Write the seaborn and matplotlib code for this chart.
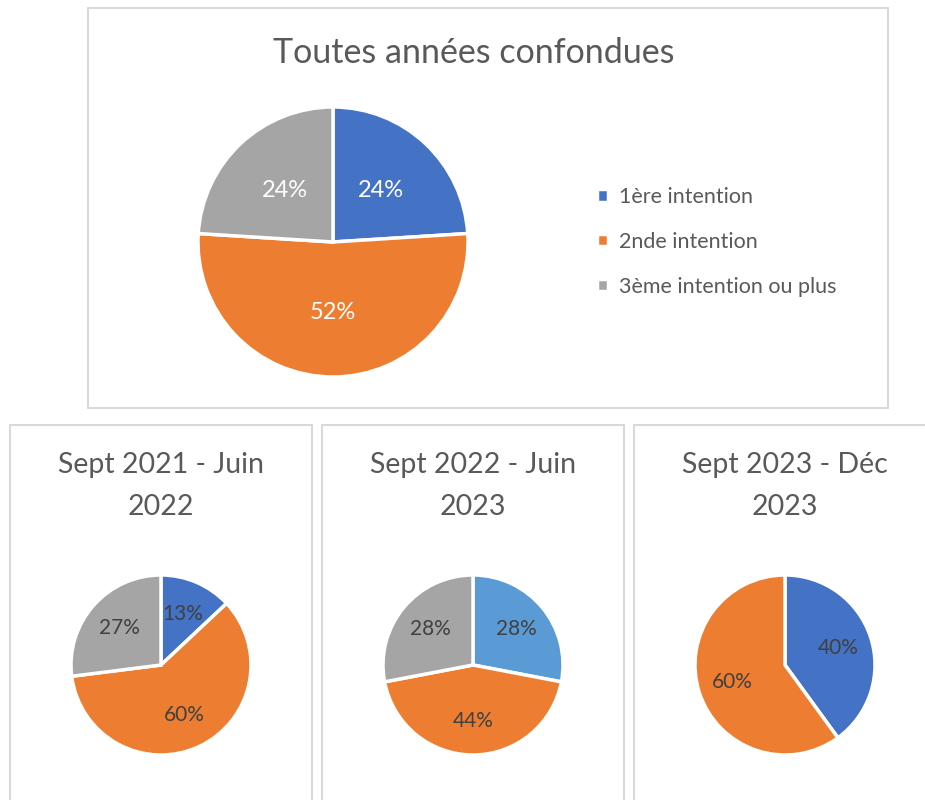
import matplotlib
matplotlib.use("Agg")
import matplotlib.pyplot as plt
import seaborn as sns
from matplotlib.patches import Rectangle

# donnees
categories = ['1ère intention', '2nde intention', '3ème intention ou plus']
total_vals = [24, 52, 24]
periodes = ['Sept 2021 - Juin\n2022', 'Sept 2022 - Juin\n2023', 'Sept 2023 - Déc\n2023']
vals_2122 = [13, 60, 27]
vals_2223 = [28, 44, 28]
vals_2324 = [40, 60]

sns.set_theme(style='white')
plt.rcParams['font.family'] = ['Lato', 'DejaVu Sans']

bleu, orange, gris, bleu_clair = '#4472C4', '#ED7D31', '#A5A5A5', '#5B9BD5'
couleurs = [[bleu, orange, gris], [bleu_clair, orange, gris], [bleu, orange]]

W, H = 925, 800
fig = plt.figure(figsize=(W / 100, H / 100), dpi=100)


def cadre(x0, y0, x1, y1):
    fig.patches.append(Rectangle((x0 / W, 1 - y1 / H), (x1 - x0) / W, (y1 - y0) / H,
                                 transform=fig.transFigure, fill=False,
                                 edgecolor='#D9D9D9', linewidth=1.5))


def camembert(cx, cy, r, vals, cols, dist, txtcol, fs):
    ax = fig.add_axes([(cx - r) / W, 1 - (cy + r) / H, 2 * r / W, 2 * r / H])
    wedges, _, autotexts = ax.pie(vals, colors=cols, startangle=90, counterclock=False,
                                  autopct='%1.0f%%', pctdistance=dist,
                                  wedgeprops=dict(edgecolor='white', linewidth=2.5, clip_on=False),
                                  textprops=dict(color=txtcol, fontsize=fs))
    ax.set_xlim(-1, 1)
    ax.set_ylim(-1, 1)
    ax.set_aspect('equal')
    ax.axis('off')
    return ax, wedges


# graphe global
cadre(88, 8, 888, 408)
fig.text(474 / W, 1 - 53 / H, 'Toutes années confondues', ha='center', va='center',
         fontsize=24.5, color='#595959')
ax, wedges = camembert(333, 242, 135, total_vals, couleurs[0], 0.52, 'white', 17)
ax.legend(wedges, categories, loc='center left', bbox_to_anchor=(578 / W, 1 - 242 / H),
          bbox_transform=fig.transFigure, frameon=False, handlelength=0.5, handleheight=0.5,
          handletextpad=0.5, labelspacing=1.15, fontsize=15.5, labelcolor='#595959')

# graphes par periode
centres = [161, 473, 785]
cadres = [(10, 312), (322, 624), (634, 935)]
for i, vals in enumerate([vals_2122, vals_2223, vals_2324]):
    cadre(cadres[i][0], 425, cadres[i][1], 810)
    fig.text(centres[i] / W, 1 - 486 / H, periodes[i], ha='center', va='center',
             fontsize=20.5, color='#595959', linespacing=1.75)
    camembert(centres[i], 665, 90, vals, couleurs[i], 0.62, '#404040', 15)

fig.savefig('out.png', dpi=100, facecolor='white')
